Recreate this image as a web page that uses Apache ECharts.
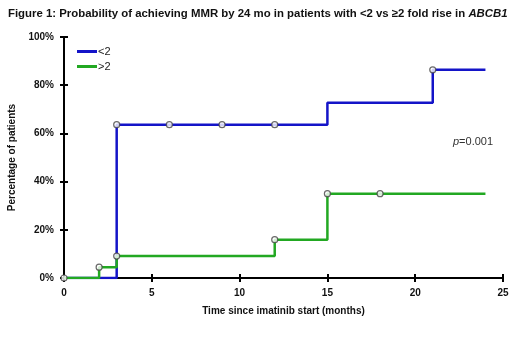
<!DOCTYPE html>
<html>
<head>
<meta charset="utf-8">
<script src="https://cdn.jsdelivr.net/npm/echarts@6/dist/echarts.min.js"></script>
<style>
  html, body { margin: 0; padding: 0; background: #fff; }
  #chart { width: 520px; height: 359px; }
</style>
</head>
<body>
<div id="chart"></div>
<script>
// step points (months, %)
const lowMonths = [0, 3, 15, 21, 24];
const lowPct = [0, 63.6, 72.7, 86.4, 86.4];
const highMonths = [0, 2, 3, 12, 15, 24];
const highPct = [0, 4.5, 9.1, 15.9, 35, 35];
// censor marks
const lowCensorMonths = [3, 6, 9, 12, 21];
const lowCensorPct = [63.6, 63.6, 63.6, 63.6, 86.4];
const highCensorMonths = [0, 2, 3, 12, 15, 18];
const highCensorPct = [0, 4.5, 9.1, 15.9, 35, 35];
const xTicks = [0, 5, 10, 15, 20, 25];
const yTicks = [0, 20, 40, 60, 80, 100];

const zip = (a, b) => a.map((v, i) => [v, b[i]]);
const sans = 'Liberation Sans, Arial, sans-serif';

let chartDom = document.getElementById('chart');
let myChart = echarts.init(chartDom, null, {renderer: 'canvas'});

const axisText = {color: '#111', fontFamily: sans, fontWeight: 'bold', fontSize: 10};

let option = {
  animation: false,
  title: {
    text: 'Figure 1: Probability of achieving MMR by 24 mo in patients with <2 vs \u22652 fold rise in {i|ABCB1}',
    left: 3,
    top: 3,
    textStyle: {
      fontFamily: sans, fontWeight: 'bold', fontSize: 11.4, color: '#111',
      rich: {i: {fontFamily: sans, fontWeight: 'bold', fontStyle: 'italic', fontSize: 11.4, color: '#111'}}
    }
  },
  legend: {
    left: 72,
    top: 41,
    orient: 'vertical',
    itemGap: 4,
    itemWidth: 20,
    itemHeight: 3,
    icon: 'rect',
    data: ['<2', '>2'],
    textStyle: {fontFamily: sans, fontSize: 11, color: '#222', padding: [0, 0, 0, -4]}
  },
  grid: {left: 64, right: 17, top: 37, bottom: 81, containLabel: false, outerBoundsMode: 'none'},
  xAxis: [
    {
      type: 'value', min: 0, max: 25, interval: 5,
      name: 'Time since imatinib start (months)',
      nameLocation: 'middle', nameGap: 28,
      nameTextStyle: axisText,
      axisLine: {lineStyle: {color: '#000', width: 2}},
      axisTick: {show: true, length: 4, lineStyle: {color: '#000', width: 2}},
      axisLabel: Object.assign({}, axisText, {margin: 10}),
      splitLine: {show: false}
    },
    {
      type: 'value', min: 0, max: 25, interval: 5, position: 'bottom',
      axisLine: {show: false},
      axisTick: {show: true, inside: true, length: 4, lineStyle: {color: '#000', width: 2}},
      axisLabel: {show: false},
      splitLine: {show: false}
    }
  ],
  yAxis: [
    {
      type: 'value', min: 0, max: 100, interval: 20,
      name: 'Percentage of patients',
      nameLocation: 'middle', nameGap: 36, nameRotate: 90,
      nameTextStyle: axisText,
      axisLine: {show: true, lineStyle: {color: '#000', width: 2}},
      axisTick: {show: true, length: 4, lineStyle: {color: '#000', width: 2}},
      axisLabel: Object.assign({}, axisText, {formatter: '{value}%', margin: 10}),
      splitLine: {show: false}
    },
    {
      type: 'value', min: 0, max: 100, interval: 20, position: 'left',
      axisLine: {show: false},
      axisTick: {show: true, inside: true, length: 4, lineStyle: {color: '#000', width: 2}},
      axisLabel: {show: false},
      splitLine: {show: false}
    }
  ],
  graphic: [
    {
      type: 'text',
      left: 453,
      top: 136,
      style: {
        text: '{p|p}=0.001',
        font: '11px Liberation Sans, Arial, sans-serif',
        fill: '#333',
        rich: {p: {fontStyle: 'italic', fontSize: 11, fontFamily: sans, fill: '#333'}}
      }
    }
  ],
  series: [
    {
      name: '<2', type: 'line', step: 'end',
      data: zip(lowMonths, lowPct),
      showSymbol: false,
      color: '#1414c8',
      lineStyle: {color: '#1414c8', width: 2.5},
      z: 2
    },
    {
      name: '>2', type: 'line', step: 'end',
      data: zip(highMonths, highPct),
      showSymbol: false,
      color: '#22a822',
      lineStyle: {color: '#22a822', width: 2.5},
      z: 3
    },
    {
      name: 'censor <2', type: 'scatter',
      data: zip(lowCensorMonths, lowCensorPct),
      symbol: 'circle', symbolSize: 6,
      itemStyle: {color: '#fff', borderColor: '#444', borderWidth: 1.2},
      z: 5
    },
    {
      name: 'censor >2', type: 'scatter',
      data: zip(highCensorMonths, highCensorPct),
      symbol: 'circle', symbolSize: 6,
      itemStyle: {color: '#fff', borderColor: '#444', borderWidth: 1.2},
      z: 5
    }
  ]
};

option && myChart.setOption(option);
</script>
</body>
</html>
